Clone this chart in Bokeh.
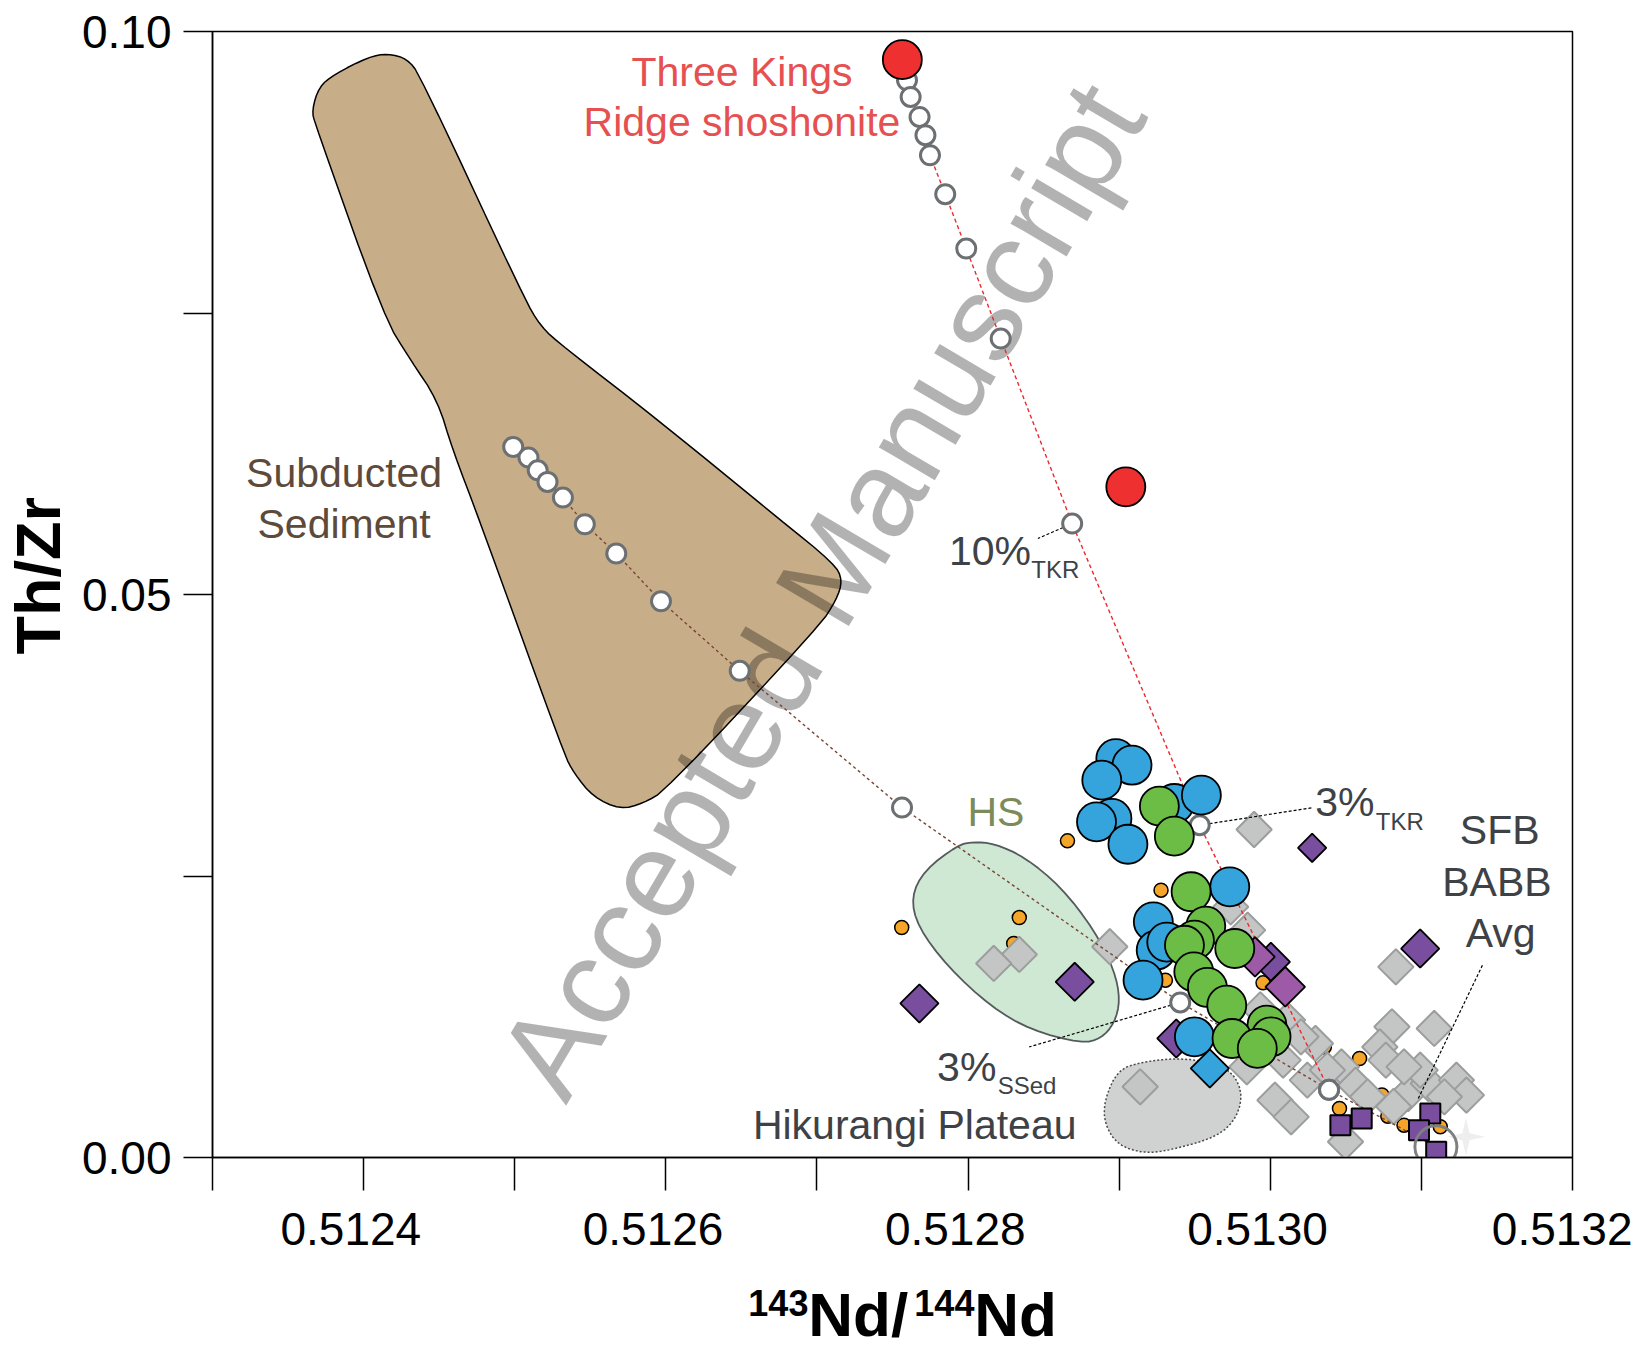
import numpy as np
from bokeh.plotting import figure
from bokeh.layouts import gridplot
from bokeh.models import FixedTicker, PrintfTickFormatter, CustomJSTickFormatter, Label, Range1d
from bokeh.embed import file_html
from bokeh.resources import INLINE

# ---------------- data: 143Nd/144Nd vs Th/Zr ----------------
# Three Kings Ridge shoshonite
tkr_nd = [0.5127565, 0.5129044]
tkr_thzr = [0.0975, 0.05956]

# mixing curve TKR -> SFB BABB average (open circles)
tkr_mix_nd = [0.5127596, 0.5127620, 0.5127679, 0.5127718, 0.5127748, 0.5127849,
              0.5127988, 0.5128216, 0.5128689, 0.5129533, 0.5130389]
tkr_mix_thzr = [0.09567, 0.09419, 0.09241, 0.09079, 0.08901, 0.08555,
                0.08072, 0.07273, 0.05630, 0.02951, 0.00601]

# mixing curve subducted sediment -> SFB BABB average
sed_mix_nd = [0.5124990, 0.5125091, 0.5125152, 0.5125217, 0.5125319, 0.5125464,
              0.5125672, 0.5125968, 0.5126489, 0.5127563, 0.5129404, 0.5130389]
sed_mix_thzr = [0.06311, 0.06216, 0.06103, 0.06000, 0.05861, 0.05624,
                0.05364, 0.04940, 0.04322, 0.03108, 0.01377, 0.00601]

# SFB back-arc basin basalt average
sfb_nd = [0.5131096]
sfb_thzr = [0.00095]

blue_nd = [0.5128978, 0.5129085, 0.5128885, 0.5128952, 0.5128850, 0.5129058, 0.5129365,
           0.5129544, 0.5129732, 0.5129226, 0.5129245, 0.5129158, 0.5129498, 0.5129315]
blue_thzr = [0.03543, 0.03484, 0.03351, 0.03011, 0.02981, 0.02782, 0.03144,
             0.03218, 0.02404, 0.02093, 0.01841, 0.01575, 0.01072, 0.01913]
blue_dia_nd = [0.5129600]
blue_dia_thzr = [0.00791]

green_nd = [0.5129266, 0.5129365, 0.5129476, 0.5129573, 0.5129498, 0.5129765, 0.5129432,
            0.5129494, 0.5129584, 0.5129712, 0.5129978, 0.5130005, 0.5129747, 0.5129914]
green_thzr = [0.03120, 0.02854, 0.02360, 0.02055, 0.01930, 0.01856, 0.01885,
              0.01649, 0.01510, 0.01353, 0.01176, 0.01072, 0.01057, 0.00969]

purple_dia_nd = [0.5127678, 0.5128706, 0.5130992, 0.5130004, 0.5129378]
purple_dia_thzr = [0.01368, 0.01560, 0.01856, 0.01738, 0.01057]
purple_small_nd = [0.5130277]
purple_small_thzr = [0.02750]
magenta_dia_nd = [0.5129899, 0.5130099]
magenta_dia_thzr = [0.01782, 0.01516]

purple_sq_nd = [0.5130464, 0.5130605, 0.5131059, 0.5130984, 0.5131098]
purple_sq_thzr = [0.00287, 0.00347, 0.00391, 0.00243, 0.00050]

orange_nd = [0.5128658, 0.5127561, 0.5128339, 0.5128302, 0.5129277, 0.5129306, 0.5129952,
             0.5130591, 0.5130739, 0.5130778, 0.5130458, 0.5130885, 0.5131125, 0.5130358]
orange_thzr = [0.02812, 0.02043, 0.02131, 0.01901, 0.02374, 0.01575, 0.01551,
               0.00879, 0.00555, 0.00367, 0.00435, 0.00287, 0.00273, 0.00982]

gray_nd = [0.5129893, 0.5130831, 0.5128938, 0.5128339, 0.5128170, 0.5129139, 0.5129738,
           0.5130805, 0.5131085, 0.5129845, 0.5130031, 0.5130138, 0.5130471, 0.5130725,
           0.5130765, 0.5130912, 0.5131046, 0.5131232, 0.5131298, 0.5130498, 0.5130245,
           0.5130085, 0.5130299, 0.5130378, 0.5130565, 0.5130992, 0.5131152, 0.5130885,
           0.5129934, 0.5130816, 0.5129850, 0.5130115, 0.5130203, 0.5130644]
gray_thzr = [0.02913, 0.01693, 0.01872, 0.01803, 0.01723, 0.00628, 0.02226,
             0.01161, 0.01146, 0.00805, 0.00509, 0.00361, 0.00805, 0.00982,
             0.00865, 0.00568, 0.00657, 0.00687, 0.00554, 0.00140, 0.00687,
             0.00865, 0.01013, 0.00776, 0.00642, 0.00776, 0.00539, 0.00805,
             0.01312, 0.00453, 0.02019, 0.01220, 0.01072, 0.00539]

# compositional fields (outlines)
sed_field_nd = [0.5124160, 0.5124286, 0.5124374, 0.5125058, 0.5125173, 0.5125324, 0.5125950,
                0.5126760, 0.5127114, 0.5127170, 0.5127128, 0.5127013, 0.5126000, 0.5125848,
                0.5125697, 0.5125520, 0.5125393, 0.5125324, 0.5124767, 0.5124590, 0.5124489,
                0.5124312, 0.5124134, 0.5123678, 0.5123658, 0.5123704, 0.5123806, 0.5124033]
sed_field_thzr = [0.09804, 0.09760, 0.09611, 0.07643, 0.07376, 0.07199, 0.06548,
                  0.05660, 0.05275, 0.05127, 0.04949, 0.04713, 0.03262, 0.03144,
                  0.03091, 0.03202, 0.03410, 0.03591, 0.05660, 0.06281, 0.06726,
                  0.07080, 0.07465, 0.09182, 0.09300, 0.09507, 0.09620, 0.09774]

hs_field_nd = [0.5128031, 0.5127932, 0.5127712, 0.5127623, 0.5127667, 0.5127866, 0.5128152,
               0.5128417, 0.5128750, 0.5128880, 0.5128968, 0.5129007, 0.5128968, 0.5128836,
               0.5128615, 0.5128373, 0.5128174]
hs_field_thzr = [0.02803, 0.02774, 0.02552, 0.02315, 0.02049, 0.01693, 0.01338,
                 0.01131, 0.01013, 0.01057, 0.01190, 0.01397, 0.01664, 0.02019,
                 0.02404, 0.02670, 0.02788]

hp_field_nd = [0.5128902, 0.5128990, 0.5129144, 0.5129432, 0.5129718, 0.5129817,
               0.5129784, 0.5129652, 0.5129343, 0.5129166, 0.5128990, 0.5128902]
hp_field_thzr = [0.00509, 0.00775, 0.00849, 0.00888, 0.00805, 0.00598,
                 0.00361, 0.00184, 0.00066, 0.00036, 0.00110, 0.00302]

# annotation leader lines (label -> point)
leader_nd = [[0.5128689, 0.5128462], [0.5129533, 0.5130285],
             [0.5129404, 0.5128405], [0.5131404, 0.5130974]]
leader_thzr = [[0.05630, 0.05497], [0.02951, 0.03108],
               [0.01377, 0.00982], [0.01708, 0.00508]]

x_major = [0.5124, 0.5126, 0.5128, 0.5130, 0.5132]
x_minor = [0.5123, 0.5125, 0.5127, 0.5129, 0.5131]
y_major = [0.0, 0.05, 0.10]
y_minor = [0.025, 0.075]

X0, X1 = 0.5123, 0.5132
Y0, Y1 = 0.0, 0.10

# ---------------- layout sizes ----------------
SW = 78                     # strip holding the y-axis title
W, H = 1632 - SW, 1260      # main plot
QH = 1348 - H               # strip holding the x-axis title
ML, MR, MT, MB = 133, 60, 31, 103

FONT = "Liberation Sans"


def bare(fig):
    fig.xgrid.visible = False
    fig.ygrid.visible = False
    fig.outline_line_color = None
    fig.background_fill_color = "white"
    fig.border_fill_color = "white"


# ---------------- main plot ----------------
x_rng = Range1d(X0, X1)
y_rng = Range1d(Y0, Y1)
p = figure(width=W, height=H, x_range=x_rng, y_range=y_rng,
           output_backend="svg", toolbar_location=None,
           min_border_left=ML, min_border_right=MR, min_border_top=MT, min_border_bottom=MB)
bare(p)
p.outline_line_color = "black"
p.outline_line_width = 1.5

for ax, tick_len in ((p.xaxis, 33), (p.yaxis, 29)):
    ax.axis_line_width = 1.5
    ax.axis_line_color = "black"
    ax.major_tick_line_width = 1.5
    ax.minor_tick_line_width = 1.5
    ax.major_tick_line_color = "black"
    ax.minor_tick_line_color = "black"
    ax.major_tick_in = 0
    ax.minor_tick_in = 0
    ax.major_tick_out = tick_len
    ax.minor_tick_out = tick_len
    ax.major_label_text_font = FONT
    ax.major_label_text_font_size = "46px"
    ax.major_label_text_color = "black"

p.xaxis.ticker = FixedTicker(ticks=x_major, minor_ticks=x_minor)
p.xaxis.formatter = CustomJSTickFormatter(
    code="const s = tick.toFixed(4); return tick > 0.51315 ? s : s + '\\u00a0\\u00a0';")
p.xaxis.major_label_standoff = 12
p.yaxis.ticker = FixedTicker(ticks=y_major, minor_ticks=y_minor)
p.yaxis.formatter = PrintfTickFormatter(format="%.2f")
p.yaxis.major_label_standoff = 12

dx_px = (X1 - X0) / (W - ML - MR)
dy_px = (Y1 - Y0) / (H - MT - MB)


def chaikin(xs, ys, passes=2):
    x = np.asarray(xs, dtype=float)
    y = np.asarray(ys, dtype=float)
    for _ in range(passes):
        xn, yn = np.roll(x, -1), np.roll(y, -1)
        x = np.column_stack([0.75 * x + 0.25 * xn, 0.25 * x + 0.75 * xn]).ravel()
        y = np.column_stack([0.75 * y + 0.25 * yn, 0.25 * y + 0.75 * yn]).ravel()
    return x, y


# fields (the sediment field sits under the watermark)
fx, fy = chaikin(sed_field_nd, sed_field_thzr, 2)
sed_r = p.patch(fx, fy, fill_color="#c8ae88", line_color="black", line_width=1.5)
sed_r.level = "image"
fx, fy = chaikin(hs_field_nd, hs_field_thzr, 2)
p.patch(fx, fy, fill_color="#cee8d3", line_color="#555a5c", line_width=1.8)
fx, fy = chaikin(hp_field_nd, hp_field_thzr, 2)
p.patch(fx, fy, fill_color="#d0d1d1", line_color="#4a4a4a", line_width=1.5, line_dash="2 2")

# small orange symbols sit beneath the grey diamonds
p.scatter(orange_nd, orange_thzr, marker="circle", size=14,
          fill_color="#f6a52b", line_color="black", line_width=1.5)
p.scatter(gray_nd, gray_thzr, marker="square", angle=np.pi / 4, size=25,
          fill_color="#c4c5c5", line_color="#9c9d9d", line_width=2)

# mixing curves
p.line(tkr_nd[:1] + tkr_mix_nd, tkr_thzr[:1] + tkr_mix_thzr,
       line_color="#ec2a2e", line_width=1.4, line_dash="4 3")
p.line(sed_mix_nd + sfb_nd, sed_mix_thzr + sfb_thzr,
       line_color="#7a4535", line_width=1.4, line_dash="3 3")
p.multi_line(leader_nd, leader_thzr, line_color="black", line_width=1.2, line_dash="3 2")

p.scatter(tkr_mix_nd + sed_mix_nd, tkr_mix_thzr + sed_mix_thzr, marker="circle", size=19,
          fill_color="white", line_color="#6c7072", line_width=3)

# samples
p.scatter(purple_dia_nd, purple_dia_thzr, marker="square", angle=np.pi / 4, size=27,
          fill_color="#7a4e9f", line_color="black", line_width=1.8)
p.scatter(purple_small_nd, purple_small_thzr, marker="square", angle=np.pi / 4, size=20,
          fill_color="#7a4e9f", line_color="black", line_width=1.8)
p.scatter(magenta_dia_nd, magenta_dia_thzr, marker="square", angle=np.pi / 4, size=28,
          fill_color="#9d5aa6", line_color="black", line_width=1.8)
p.scatter(blue_nd, blue_thzr, marker="circle", size=39,
          fill_color="#35a3dc", line_color="black", line_width=1.8)
p.scatter(blue_dia_nd, blue_dia_thzr, marker="square", angle=np.pi / 4, size=27,
          fill_color="#35a3dc", line_color="black", line_width=1.8)
p.scatter(green_nd, green_thzr, marker="circle", size=39,
          fill_color="#6cbd45", line_color="black", line_width=1.8)
p.scatter(purple_sq_nd, purple_sq_thzr, marker="square", size=20,
          fill_color="#7a4e9f", line_color="black", line_width=2)

# SFB BABB average: faint four-point star and grey ring
sx0, sy0 = 0.5131295, 0.00184
ang = np.linspace(0, 2 * np.pi, 9)[:-1]
rad = np.where(np.arange(8) % 2 == 0, 19.0, 5.0)
p.patch(sx0 + rad * np.cos(ang) * dx_px, sy0 + rad * np.sin(ang) * dy_px,
        fill_color="#eeeeee", line_color=None)
p.scatter(sfb_nd, sfb_thzr, marker="circle", size=42,
          fill_color=None, line_color="#7d7f80", line_width=3)

p.scatter(tkr_nd, tkr_thzr, marker="circle", size=39,
          fill_color="#ee3030", line_color="black", line_width=1.8)

# ---------------- text ----------------
BASE_SHIFT = 0.33  # baseline correction, in em


def lab(fig, x, y, text, size, color, align="left", bold=False, angle=0.0,
        x_offset=0, alpha=1.0, ux=1.0, uy=1.0, level="annotation"):
    # nudge the anchor along the text's "up" direction so the baseline sits at (x, y)
    sh = BASE_SHIFT * size
    x = x - np.sin(angle) * sh * ux
    y = y + np.cos(angle) * sh * uy
    fig.add_layout(Label(x=x, y=y, text=text, text_font=FONT, text_font_size=f"{size}px",
                         text_color=color, text_align=align, text_baseline="alphabetic",
                         text_font_style="bold" if bold else "normal", angle=angle,
                         x_offset=x_offset, text_alpha=alpha, level=level))


def plab(*args, **kw):
    lab(p, *args, ux=dx_px, uy=dy_px, **kw)


RED_TXT = "#e65050"
DARK = "#3e4246"
plab(0.5126504, 0.09522, "Three Kings", 41, RED_TXT, "center")
plab(0.5126504, 0.09078, "Ridge shoshonite", 41, RED_TXT, "center")
plab(0.5123871, 0.05955, "Subducted", 41, "#5d4a3b", "center")
plab(0.5123871, 0.05506, "Sediment", 41, "#5d4a3b", "center")
plab(0.5128184, 0.02952, "HS", 41, "#7d8b5b", "center")
plab(0.5127874, 0.05269, "10%", 41, DARK)
plab(0.5128419, 0.05151, "TKR", 24, DARK)
plab(0.5130298, 0.03040, "3%", 41, DARK)
plab(0.5130698, 0.02913, "TKR", 24, DARK)
plab(0.5127795, 0.00687, "3%", 41, DARK)
plab(0.5128196, 0.00569, "SSed", 24, DARK)
plab(0.5127647, 0.00170, "Hikurangi Plateau", 41, DARK, "center")
plab(0.5131518, 0.02789, "SFB", 41, DARK, "center")
plab(0.5131500, 0.02330, "BABB", 41, DARK, "center")
plab(0.5131525, 0.01877, "Avg", 41, DARK, "center")

# watermark: above the sediment field, below the symbols
plab(0.5125329, 0.004653, "Accepted Manuscript", 123, "black", angle=np.deg2rad(59.5),
     alpha=0.3, level="underlay")

# ---------------- y-axis title strip ----------------
s = figure(width=SW, height=H, x_range=Range1d(0, SW), y_range=y_rng,
           output_backend="svg", toolbar_location=None, x_axis_type=None, y_axis_type=None,
           min_border_left=0, min_border_right=0, min_border_top=MT, min_border_bottom=MB)
bare(s)
lab(s, 58, 0.05166, "Th/Zr", 63, "black", "center", bold=True, angle=np.pi / 2,
    ux=1.0, uy=dy_px)

# ---------------- x-axis title strip ----------------
q = figure(width=W, height=QH, x_range=x_rng, y_range=Range1d(0, QH),
           output_backend="svg", toolbar_location=None, x_axis_type=None, y_axis_type=None,
           min_border_left=ML, min_border_right=MR, min_border_top=0, min_border_bottom=0)
bare(q)
title_x0 = 0.5126546
lab(q, title_x0, 34, "143", 36, "black", bold=True, ux=dx_px)
lab(q, title_x0, 14, "Nd/", 62, "black", bold=True, x_offset=60, ux=dx_px)
lab(q, title_x0, 34, "144", 36, "black", bold=True, x_offset=166, ux=dx_px)
lab(q, title_x0, 14, "Nd", 62, "black", bold=True, x_offset=226, ux=dx_px)

grid = gridplot([[s, p], [None, q]], toolbar_location=None)
open("out.html", "w").write(file_html(grid, INLINE))
